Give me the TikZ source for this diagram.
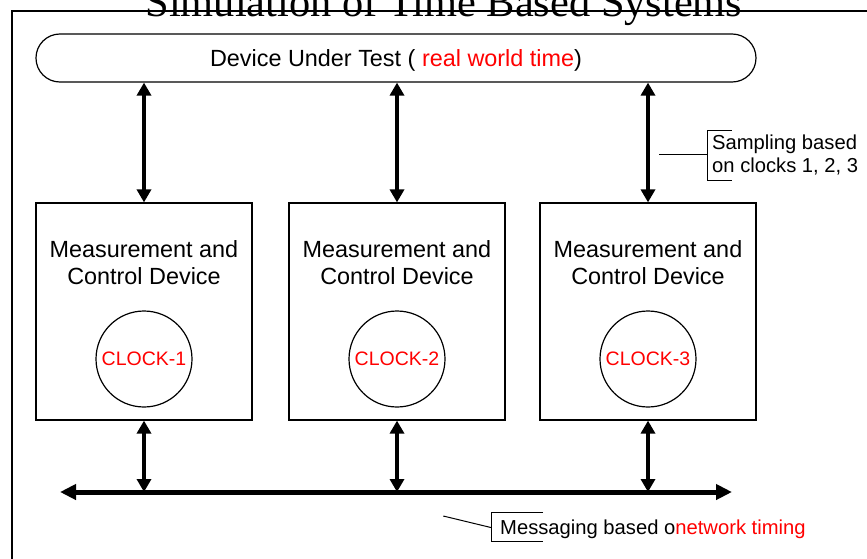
\documentclass[tikz,border=0pt]{standalone}
\usepackage{fontspec}
\setmainfont{Liberation Sans}
\newfontfamily\titlefont{Liberation Serif}
\usetikzlibrary{arrows.meta}
\begin{document}
\begin{tikzpicture}[x=1pt,y=-1pt,
  boxfont/.style={font=\fontsize{23.4}{27}\selectfont},
  notefont/.style={font=\fontsize{20.2}{22.7}\selectfont},
  clockfont/.style={font=\fontsize{19.5}{22}\selectfont},
  outline/.style={line width=1.2pt},
  dutbox/.style={draw, outline, rounded corners=23.9pt, minimum width=720pt, minimum height=48pt, inner sep=0pt, text depth=0pt, boxfont},
  mcd/.style={draw, outline, minimum width=216pt, minimum height=217pt, inner sep=0pt},
  mcdtext/.style={boxfont, align=center, inner sep=0pt},
  clock/.style={draw, circle, outline, minimum size=96pt, inner sep=0pt, text=red, clockfont},
  link/.style={line width=4pt, {Triangle[length=13pt,width=14pt]}-{Triangle[length=13pt,width=14pt]}},
  bus/.style={line width=5pt, {Triangle[length=16pt,width=15pt]}-{Triangle[length=16pt,width=15pt]}},
  note/.style={notefont, inner sep=0pt, align=left},
  leader/.style={line width=1pt}
]
\useasboundingbox (0,0) rectangle (867,558);

% outer frame and heading
\draw[outline] (12,580) -- (12,11) -- (890,11);
\node[anchor=base, font=\titlefont\fontsize{42.4}{48}\selectfont] (title) at (444,16) {Simulation of Time Based Systems};

% device under test
\node[dutbox] (dut) at (396,58) {Device Under Test ( \textcolor{red}{real world time})};

% measurement and control devices with their clocks
\foreach \i/\x in {1/144, 2/397, 3/648} {
  \node[mcd] (m\i) at (\x,311.5) {};
  \node[mcdtext] (m\i t) at (\x,263) {Measurement and\\Control Device};
  \node[clock] (c\i) at (\x,359) {CLOCK-\i};
}

% sampling links between the device under test and each unit
\foreach \i in {1,2,3}
  \draw[link] (m\i.north |- dut.south) -- (m\i.north);

% network bus
\coordinate (busL) at (60,492);
\coordinate (busR) at (732,492);
\draw[bus] (busL) -- (busR);
\foreach \i in {1,2,3}
  \draw[link] (m\i.south) -- (m\i.south |- busL);

% sampling note
\node[note, anchor=west] (samp) at (712,155) {Sampling based\\on clocks 1, 2, 3};
\coordinate (sampA) at (659,154.3);
\coordinate (sampB) at (707.7,154.3);
\draw[leader] (sampA) -- (sampB);
\draw[leader] (731.7,130.7) -- (707.7,130.7) -- (707.7,180) -- (731.7,180);

% messaging note
\node[note, anchor=base west] (msg) at (500,534) {Messaging based o\textcolor{red}{network timing}};
\coordinate (msgA) at (443.3,516);
\coordinate (msgB) at (491.7,527.7);
\draw[leader] (msgA) -- (msgB);
\draw[leader] (543,512.7) -- (491.7,512.7) -- (491.7,541.7) -- (543,541.7);
\end{tikzpicture}
\end{document}
